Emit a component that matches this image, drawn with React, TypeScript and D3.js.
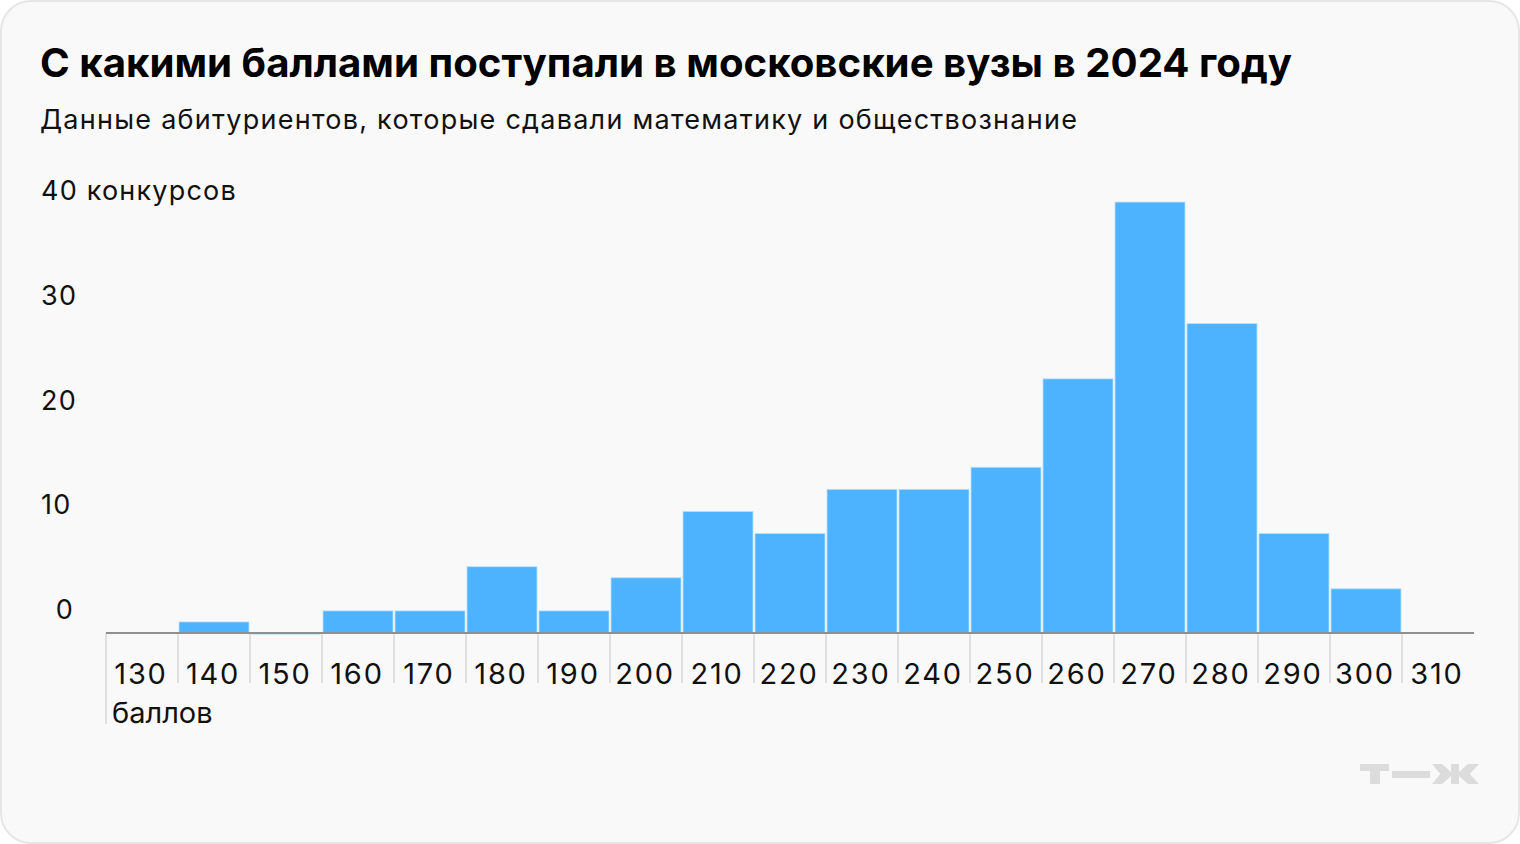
import React from "react";
import * as d3 from "d3";

const binStarts = [140, 150, 160, 170, 180, 190, 200, 210, 220, 230, 240, 250, 260, 270, 280, 290, 300];
const counts = [1, 0, 2, 2, 6, 2, 5, 11, 9, 13, 13, 15, 23, 39, 28, 9, 4];
const xTicks = [130, 140, 150, 160, 170, 180, 190, 200, 210, 220, 230, 240, 250, 260, 270, 280, 290, 300, 310];
const yTicks = [0, 10, 20, 30, 40];
const binWidth = 10;

const W = 1520;
const H = 844;
const FONT = "Inter, Roboto, 'Noto Sans', sans-serif";

export default function App() {
  const x = d3.scaleLinear().domain([130, 320]).range([106, 1474]);
  const y = d3.scaleLinear().domain([0, 40]).range([633, 191]);
  // y-axis labels are laid out on their own evenly spaced baseline scale
  const yLab = d3.scaleLinear().domain([0, 40]).range([619, 200]);
  const base = y(0);
  const half = (x(140) - x(130)) / 2;

  return (
    <svg
      width={W}
      height={H}
      style={{ position: "absolute", left: 0, top: 0, display: "block" }}
      fontFamily={FONT}
    >
      <rect x={0} y={0} width={W} height={H} fill="#ffffff" />
      <rect x={1} y={1} width={W - 2} height={H - 2} rx={30} ry={30} fill="#f9f9f9" stroke="#e6e6e6" strokeWidth={2} />

      <text x={40} y={77} fontSize={40.2} fontWeight={700} fill="#000">
        С какими баллами поступали в московские вузы в 2024 году
      </text>
      <text x={40} y={129} fontSize={27} letterSpacing={1.25} fill="#111">
        Данные абитуриентов, которые сдавали математику и обществознание
      </text>

      {yTicks.map((v) => (
        <text key={v} x={41} y={yLab(v)} fontSize={27} letterSpacing={1.2} fill="#111">
          {(v < 10 ? "\u2002" : "") + v + (v === 40 ? " конкурсов" : "")}
        </text>
      ))}

      {/* tick lines */}
      {xTicks.map((t, i) => (
        <line
          key={"tl" + t}
          x1={x(t)}
          x2={x(t)}
          y1={base}
          y2={i === 0 ? 724 : 683}
          stroke="#e0e0e0"
          strokeWidth={2}
        />
      ))}

      {/* bars */}
      {binStarts.map((b, i) => {
        const v = counts[i];
        const x0 = x(b);
        const x1 = x(b + binWidth);
        if (v === 0) {
          return (
            <rect key={b} x={x0 + 1.5} y={base} width={x1 - x0 - 3} height={2} fill="#4db3ff" opacity={0.25} />
          );
        }
        return (
          <rect
            key={b}
            x={x0 + 1}
            y={y(v)}
            width={x1 - x0 - 2}
            height={base - y(v)}
            fill="#4db3ff"
            stroke="#b8e0ff"
            strokeWidth={0.8}
          />
        );
      })}

      <line x1={x(130)} x2={x(320)} y1={base} y2={base} stroke="#8f8f8f" strokeWidth={2} />

      {xTicks.map((t) => (
        <text
          key={"xl" + t}
          x={x(t) + half - 1}
          y={684}
          fontSize={29}
          letterSpacing={1.8}
          textAnchor="middle"
          fill="#111"
        >
          {t}
        </text>
      ))}
      <text x={x(130) + 6} y={723} fontSize={29} fill="#111">
        баллов
      </text>

      {/* logo т—ж */}
      <g fill="#dcdcdc">
        <rect x={1360} y={764} width={29} height={7} />
        <rect x={1370} y={764} width={10} height={20} />
        <rect x={1392} y={771} width={38} height={7} />
        <rect x={1451} y={764} width={8} height={20} />
        <polygon points="1432,764 1442,764 1451,772 1451,776 1442,776" />
        <polygon points="1432,784 1442,784 1451,776 1451,772 1442,772" />
        <polygon points="1479,764 1468,764 1459,772 1459,776 1468,776" />
        <polygon points="1479,784 1468,784 1459,776 1459,772 1468,772" />
      </g>
    </svg>
  );
}
